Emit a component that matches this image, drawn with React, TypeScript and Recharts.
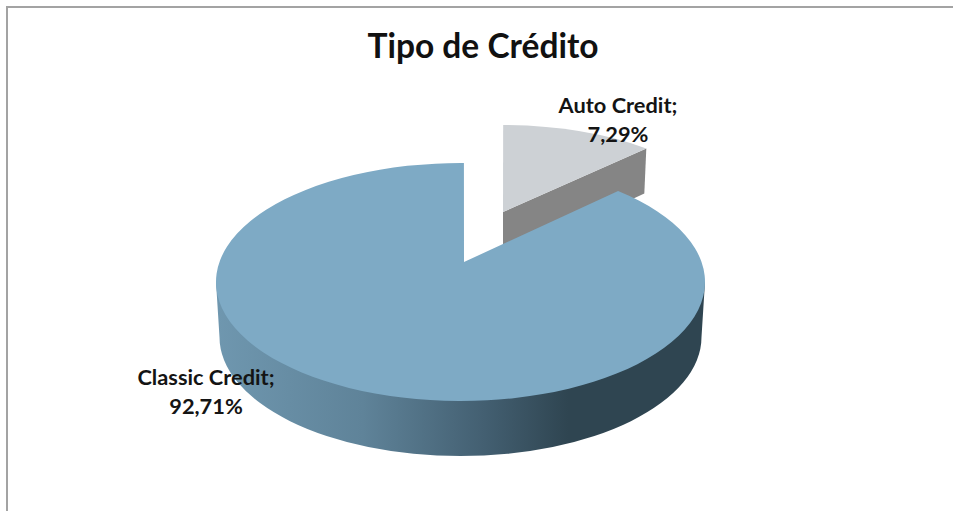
import React from "react";
import { PieChart, Pie } from "recharts";

const categories = ["Auto Credit", "Classic Credit"];
const shares = [7.29, 92.71];

const chartData = categories.map((name, i) => ({ name, value: shares[i] }));

const WIDTH = 953;
const HEIGHT = 511;
const FONT = "Lato, 'Noto Sans', sans-serif";

// Perspective view of each slice, relative to the pie centre and radius the library gives.
const VIEWS: Record<string, any> = {
  "Classic Credit": {
    top: "#7eaac5",
    dx: 0, dy: 0, rx: 1, ry: 0.4867,
    apex: [3.5, -20],
  },
  "Auto Credit": {
    top: "#cdd1d5",
    dx: 39.5, dy: -57, rx: 0.9284, ry: 0.409,
    apex: [3, -13],
  },
};
const LABEL_AT: Record<string, [number, number]> = {
  "Auto Credit": [618, 113],
  "Classic Credit": [206, 385],
};

const pt = (cx: number, cy: number, rx: number, ry: number, deg: number) => {
  const a = (deg * Math.PI) / 180;
  return [cx + rx * Math.sin(a), cy - ry * Math.cos(a)];
};
// foreshortening of an angle measured clockwise from the top of the pie
const view = (theta: number) => theta + 0.8 + 16.5 * Math.sin((2 * theta * Math.PI) / 180);

const SliceShape = (props: any) => {
  const { cx, cy, outerRadius, startAngle, endAngle, name } = props;
  const v = VIEWS[name];
  const ex = cx + v.dx;
  const ey = cy + v.dy;
  const rx = outerRadius * v.rx;
  const ry = outerRadius * v.ry;
  const a0 = view(90 - startAngle);
  const a1 = view(90 - endAngle);
  const p0 = pt(ex, ey, rx, ry, a0);
  const p1 = pt(ex, ey, rx, ry, a1);
  const ax = ex + v.apex[0];
  const ay = ey + v.apex[1];
  const large = a1 - a0 > 180 ? 1 : 0;
  const topPath = `M${ax},${ay} L${p0[0]},${p0[1]} A${rx},${ry} 0 ${large} 1 ${p1[0]},${p1[1]} Z`;

  if (name === "Auto Credit") {
    const wall = `M${ax},${ay} L${p1[0]},${p1[1]} L${p1[0] - 2},${p1[1] + 45} L${ax},${ay + 47} Z`;
    return (
      <g>
        <path d={wall} fill="#858585" />
        <path d={topPath} fill={v.top} />
      </g>
    );
  }

  const brx = outerRadius * 0.9857;
  const bry = outerRadius * 0.4867;
  const by = cy + 55;
  const side = `M${cx - rx},${cy} L${cx - brx},${by} A${brx},${bry} 0 0 0 ${cx + brx},${by} L${cx + rx},${cy} Z`;
  return (
    <g>
      <defs>
        <linearGradient id="wallFill" gradientUnits="userSpaceOnUse" x1={cx - rx} x2={cx + rx} y1={0} y2={0}>
          <stop offset="0" stopColor="#6f97af" />
          <stop offset="0.3" stopColor="#5f8399" />
          <stop offset="0.55" stopColor="#435f71" />
          <stop offset="0.72" stopColor="#2f4551" />
          <stop offset="1" stopColor="#2f4551" />
        </linearGradient>
      </defs>
      <path d={side} fill="url(#wallFill)" />
      <path d={topPath} fill={v.top} />
    </g>
  );
};

const renderLabel = (props: any) => {
  const [x, y] = LABEL_AT[props.name];
  const text = Number(props.value).toFixed(2).replace(".", ",") + "%";
  return (
    <text x={x} y={y} textAnchor="middle" fontFamily={FONT} fontWeight={700} fontSize={21.8} fill="#141414">
      <tspan x={x}>{props.name};</tspan>
      <tspan x={x} dy={28.5}>{text}</tspan>
    </text>
  );
};

export default function App() {
  return (
    <div style={{ position: "absolute", left: 0, top: 0, width: WIDTH, height: HEIGHT, overflow: "hidden", background: "#fff" }}>
      <div
        style={{
          position: "absolute",
          left: 6,
          top: 6,
          width: WIDTH,
          height: HEIGHT,
          borderLeft: "2px solid #a3a3a3",
          borderTop: "2px solid #a3a3a3",
        }}
      />
      <PieChart width={WIDTH} height={HEIGHT} margin={{ top: 0, right: 0, bottom: 0, left: 0 }} style={{ position: "absolute", left: 0, top: 0 }}>
        <text x={483} y={58} textAnchor="middle" fontFamily={FONT} fontWeight={700} fontSize={33.5} fill="#111">
          Tipo de Crédito
        </text>
        <Pie
          data={chartData}
          dataKey="value"
          nameKey="name"
          cx={460.5}
          cy={282}
          outerRadius={244.5}
          startAngle={90}
          endAngle={-270}
          stroke="none"
          isAnimationActive={false}
          shape={SliceShape}
          label={renderLabel}
          labelLine={false}
        />
      </PieChart>
    </div>
  );
}
